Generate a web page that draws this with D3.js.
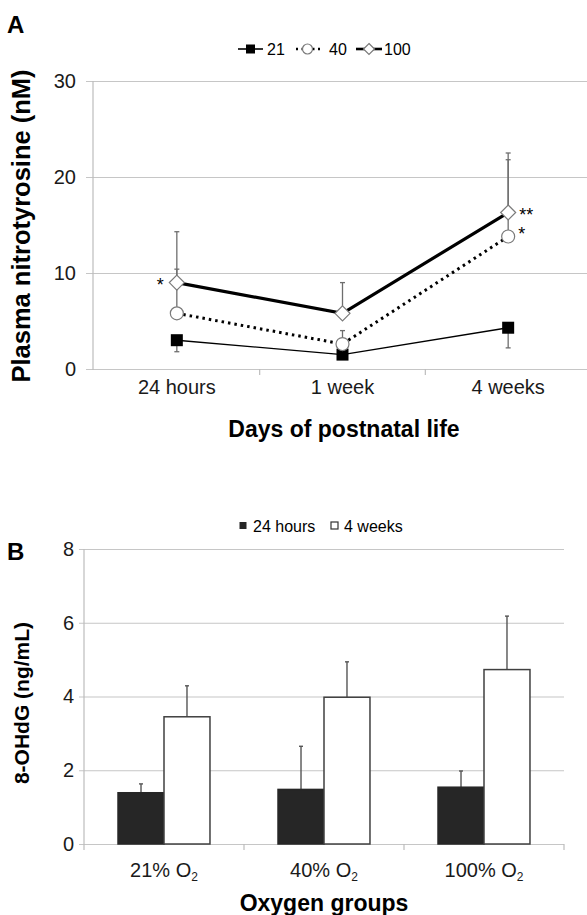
<!DOCTYPE html>
<html><head><meta charset="utf-8">
<script src="https://cdn.jsdelivr.net/npm/d3@7"></script>
<style>
html,body{margin:0;padding:0;background:#fff;}
svg{display:block;font-family:"Liberation Sans",Arial,sans-serif;}
</style></head>
<body>
<svg id="c" width="587" height="915"></svg>
<script>
// ---------- Panel A data ----------
const timepoints = ["24 hours", "1 week", "4 weeks"];
const yTicksA = [0, 10, 20, 30];
const o2_21 = [3.0, 1.5, 4.3];
const o2_21_sd = [1.2, 0.3, 2.1];     // drawn downward
const o2_40 = [5.8, 2.6, 13.8];
const o2_40_sd = [4.6, 1.4, 8.0];     // drawn upward
const o2_100 = [9.0, 5.8, 16.3];
const o2_100_sd = [5.3, 3.2, 6.2];    // drawn upward
const legendA = ["21", "40", "100"];

// ---------- Panel B data ----------
const groups = ["21%", "40%", "100%"];
const periods = ["24 hours", "4 weeks"];
const yTicksB = [0, 2, 4, 6, 8];
const ohdg24h = [1.39, 1.48, 1.54];
const ohdg24h_sd = [0.24, 1.17, 0.44];
const ohdg4w = [3.45, 3.98, 4.73];
const ohdg4w_sd = [0.84, 0.96, 1.45];

const svg = d3.select("#c");
const gridCol = "#c6c6c6", axisCol = "#bdbdbd", errCol = "#6e6e6e";

// ================= PANEL A =================
const xA = d3.scaleBand().domain(timepoints).range([94, 591]);
const yA = d3.scaleLinear().domain([0, 30]).range([369, 81]);
const gA = svg.append("g");

gA.append("text").attr("x", 7).attr("y", 33).attr("font-size", 24).attr("font-weight", "bold").text("A");

const axA = gA.append("g").attr("transform", "translate(86,0)")
  .call(d3.axisLeft(yA).tickValues(yTicksA).tickSize(-(600 - 86)).tickPadding(10));
axA.select(".domain").remove();
axA.selectAll("line").attr("stroke", gridCol).attr("stroke-width", 1.2);
axA.selectAll("text").attr("font-size", 20).attr("fill", "#1a1a1a").attr("font-family", "Liberation Sans, Arial, sans-serif");
gA.append("line").attr("x1", 93).attr("x2", 93).attr("y1", yA(30)).attr("y2", yA(0) + 1).attr("stroke", axisCol).attr("stroke-width", 1.2);

const axAx = gA.append("g").attr("transform", `translate(0,${yA(0)})`)
  .call(d3.axisBottom(xA).tickSize(0).tickPadding(11));
axAx.select(".domain").remove();
axAx.selectAll("text").attr("font-size", 20).attr("fill", "#1a1a1a").attr("font-family", "Liberation Sans, Arial, sans-serif");
timepoints.slice(1).forEach(t => {
  gA.append("line").attr("x1", xA(t)).attr("x2", xA(t)).attr("y1", yA(0)).attr("y2", yA(0) + 6).attr("stroke", axisCol).attr("stroke-width", 1.2);
});

gA.append("text").attr("x", 344).attr("y", 437).attr("text-anchor", "middle").attr("font-size", 23).attr("font-weight", "bold").text("Days of postnatal life");
gA.append("text").attr("transform", "translate(30,226) rotate(-90)").attr("text-anchor", "middle").attr("font-size", 25.5).attr("font-weight", "bold").text("Plasma nitrotyrosine (nM)");

const cx = t => xA(t) + xA.bandwidth() / 2;

function errBar(g, x, y1, y2) {
  g.append("line").attr("x1", x).attr("x2", x).attr("y1", y1).attr("y2", y2).attr("stroke", errCol).attr("stroke-width", 1.3);
  g.append("line").attr("x1", x - 2.5).attr("x2", x + 2.5).attr("y1", y2).attr("y2", y2).attr("stroke", errCol).attr("stroke-width", 1.3);
}
timepoints.forEach((t, i) => {
  errBar(gA, cx(t), yA(o2_21[i]), yA(o2_21[i] - o2_21_sd[i]));
  errBar(gA, cx(t), yA(o2_40[i]), yA(o2_40[i] + o2_40_sd[i]));
  errBar(gA, cx(t), yA(o2_100[i]), yA(o2_100[i] + o2_100_sd[i]));
});

const lineA = arr => d3.line().x((d, i) => cx(timepoints[i])).y(d => yA(d))(arr);
gA.append("path").attr("d", lineA(o2_21)).attr("fill", "none").attr("stroke", "#000").attr("stroke-width", 1.4);
gA.append("path").attr("d", lineA(o2_40)).attr("fill", "none").attr("stroke", "#000").attr("stroke-width", 3).attr("stroke-dasharray", "2.5,4");
gA.append("path").attr("d", lineA(o2_100)).attr("fill", "none").attr("stroke", "#000").attr("stroke-width", 3.2);

const sq = (g, x, y, s) => g.append("rect").attr("x", x - s / 2).attr("y", y - s / 2).attr("width", s).attr("height", s).attr("fill", "#000");
const circ = (g, x, y, r) => g.append("circle").attr("cx", x).attr("cy", y).attr("r", r).attr("fill", "#fff").attr("stroke", "#7a7a7a").attr("stroke-width", 1.2);
const diam = (g, x, y, r) => g.append("path").attr("d", `M${x},${y - r}L${x + r},${y}L${x},${y + r}L${x - r},${y}Z`).attr("fill", "#fff").attr("stroke", "#7a7a7a").attr("stroke-width", 1.2);
timepoints.forEach((t, i) => {
  sq(gA, cx(t), yA(o2_21[i]), 12);
  circ(gA, cx(t), yA(o2_40[i]), 6.5);
  diam(gA, cx(t), yA(o2_100[i]), 7.5);
});

gA.append("text").attr("x", cx("24 hours") - 13).attr("y", yA(o2_100[0]) + 8).attr("text-anchor", "end").attr("font-size", 18).text("*");
gA.append("text").attr("x", cx("4 weeks") + 11).attr("y", yA(o2_100[2]) + 8).attr("font-size", 18).text("**");
gA.append("text").attr("x", cx("4 weeks") + 10).attr("y", yA(o2_40[2]) + 3).attr("font-size", 18).text("*");

// legend A
const lg = gA.append("g").attr("font-size", 16);
const ly = 49;
lg.append("line").attr("x1", 238).attr("x2", 263).attr("y1", ly).attr("y2", ly).attr("stroke", "#000").attr("stroke-width", 1.6);
sq(lg, 250.5, ly, 9);
lg.append("text").attr("x", 267).attr("y", ly + 6).text(legendA[0]);
lg.append("line").attr("x1", 296).attr("x2", 320).attr("y1", ly).attr("y2", ly).attr("stroke", "#000").attr("stroke-width", 2.4).attr("stroke-dasharray", "2,3.5");
circ(lg, 307.5, ly, 5);
lg.append("text").attr("x", 329).attr("y", ly + 6).text(legendA[1]);
lg.append("line").attr("x1", 356).attr("x2", 382).attr("y1", ly).attr("y2", ly).attr("stroke", "#000").attr("stroke-width", 2.6);
diam(lg, 369, ly, 5.5);
lg.append("text").attr("x", 384).attr("y", ly + 6).text(legendA[2]);

// ================= PANEL B =================
const xB = d3.scaleBand().domain(groups).range([84, 564]);
const x1 = d3.scaleBand().domain(periods).range([0, xB.bandwidth()]).paddingInner(0).paddingOuter(0.74);
const yB = d3.scaleLinear().domain([0, 8]).range([844, 549]);
const gB = svg.append("g");

gB.append("text").attr("x", 7).attr("y", 560).attr("font-size", 24).attr("font-weight", "bold").text("B");

const axB = gB.append("g").attr("transform", "translate(79,0)")
  .call(d3.axisLeft(yB).tickValues(yTicksB).tickSize(-(564 - 79)).tickPadding(5));
axB.select(".domain").remove();
axB.selectAll("line").attr("stroke", gridCol).attr("stroke-width", 1.2);
axB.selectAll("text").attr("font-size", 20).attr("fill", "#1a1a1a").attr("font-family", "Liberation Sans, Arial, sans-serif");
gB.append("line").attr("x1", 84).attr("x2", 84).attr("y1", yB(8)).attr("y2", yB(0) + 6).attr("stroke", axisCol).attr("stroke-width", 1.2);

const axBx = gB.append("g").attr("transform", `translate(0,${yB(0)})`)
  .call(d3.axisBottom(xB).tickSize(0).tickPadding(19));
axBx.select(".domain").remove();
axBx.selectAll("text").attr("font-size", 20).attr("fill", "#1a1a1a").attr("font-family", "Liberation Sans, Arial, sans-serif")
  .each(function(d) {
    const t = d3.select(this);
    t.text("");
    t.append("tspan").text(d + " O");
    t.append("tspan").attr("font-size", 12).attr("dy", "0.35em").text("2");
  });
groups.slice(1).concat(["end"]).forEach(gname => {
  const x = gname === "end" ? xB.range()[1] : xB(gname);
  gB.append("line").attr("x1", x).attr("x2", x).attr("y1", yB(0)).attr("y2", yB(0) + 6).attr("stroke", axisCol).attr("stroke-width", 1.2);
});

gB.append("text").attr("x", 324).attr("y", 911).attr("text-anchor", "middle").attr("font-size", 23).attr("font-weight", "bold").text("Oxygen groups");
gB.append("text").attr("transform", "translate(29,703) rotate(-90)").attr("text-anchor", "middle").attr("font-size", 21).attr("font-weight", "bold").text("8-OHdG (ng/mL)");

const series = [
  {key: periods[0], vals: ohdg24h, sd: ohdg24h_sd, fill: "#262626", stroke: "#262626"},
  {key: periods[1], vals: ohdg4w, sd: ohdg4w_sd, fill: "#fff", stroke: "#404040"}
];
series.forEach(s => {
  groups.forEach((gname, i) => {
    const x = xB(gname) + x1(s.key), w = x1.bandwidth();
    const ec = x + w / 2;
    gB.append("line").attr("x1", ec).attr("x2", ec).attr("y1", yB(s.vals[i])).attr("y2", yB(s.vals[i] + s.sd[i])).attr("stroke", "#555").attr("stroke-width", 1.4);
    gB.append("line").attr("x1", ec - 2).attr("x2", ec + 2).attr("y1", yB(s.vals[i] + s.sd[i])).attr("y2", yB(s.vals[i] + s.sd[i])).attr("stroke", "#555").attr("stroke-width", 1.4);
    gB.append("rect").attr("x", x).attr("y", yB(s.vals[i])).attr("width", w).attr("height", yB(0) - yB(s.vals[i]))
      .attr("fill", s.fill).attr("stroke", s.stroke).attr("stroke-width", 1.5);
  });
});

// legend B
const lgB = gB.append("g").attr("font-size", 16);
lgB.append("rect").attr("x", 239.5).attr("y", 522).attr("width", 7).attr("height", 7).attr("fill", "#262626");
lgB.append("text").attr("x", 253).attr("y", 532).text(periods[0]);
lgB.append("rect").attr("x", 331).attr("y", 522).attr("width", 7).attr("height", 7).attr("fill", "#fff").attr("stroke", "#333").attr("stroke-width", 1.2);
lgB.append("text").attr("x", 344).attr("y", 532).text(periods[1]);
</script>
</body></html>
